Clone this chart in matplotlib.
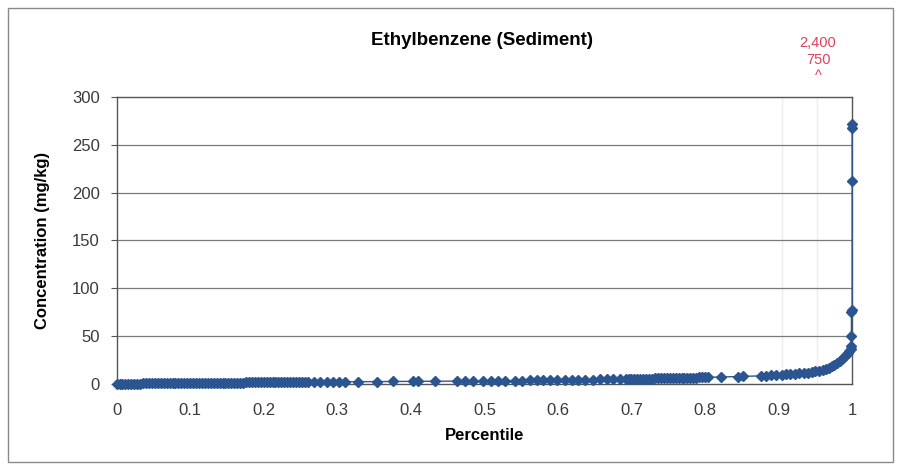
import matplotlib.pyplot as plt
from matplotlib.patches import Rectangle

# Percentil y concentracion
percentile = [
    0.000, 0.004, 0.008, 0.012, 0.016, 0.020, 0.024, 0.028, 0.032, 0.036,
    0.040, 0.044, 0.048, 0.052, 0.056, 0.060, 0.064, 0.068, 0.072, 0.076,
    0.080, 0.084, 0.088, 0.092, 0.096, 0.100, 0.104, 0.108, 0.112, 0.116,
    0.120, 0.124, 0.128, 0.132, 0.136, 0.140, 0.144, 0.148, 0.152, 0.156,
    0.160, 0.164, 0.168, 0.172, 0.176, 0.180, 0.184, 0.188, 0.192, 0.196,
    0.200, 0.204, 0.208, 0.212, 0.216, 0.220, 0.224, 0.228, 0.232, 0.236,
    0.240, 0.244, 0.248, 0.252, 0.256, 0.260,
    0.268, 0.276, 0.286, 0.294, 0.303, 0.310, 0.328, 0.354, 0.376, 0.403,
    0.410, 0.433, 0.463, 0.473, 0.484, 0.498,
    0.509, 0.518, 0.528, 0.541, 0.551, 0.562, 0.571, 0.580, 0.589, 0.599,
    0.610, 0.619, 0.627, 0.637, 0.648, 0.657, 0.667, 0.675, 0.684,
    0.692, 0.696, 0.700, 0.704, 0.708, 0.712, 0.716, 0.720, 0.724, 0.728,
    0.732, 0.736, 0.740, 0.744, 0.748, 0.752, 0.756, 0.760, 0.764, 0.768,
    0.772, 0.776, 0.780, 0.784, 0.788, 0.792, 0.796, 0.800, 0.804,
    0.822, 0.845, 0.852,
    0.876, 0.883, 0.890, 0.897, 0.904, 0.910, 0.916, 0.922, 0.928, 0.934,
    0.940, 0.945, 0.950, 0.955, 0.960, 0.964, 0.968, 0.972, 0.976, 0.980,
    0.983, 0.986, 0.989, 0.992, 0.994, 0.996, 0.998,
    0.998, 0.999, 0.999, 1.000, 1.000, 1.000, 1.000,
]
conc = [
    0.2, 0.2, 0.3, 0.3, 0.4, 0.4, 0.5, 0.5, 0.5, 0.6,
    0.6, 0.6, 0.7, 0.7, 0.7, 0.8, 0.8, 0.8, 0.9, 0.9,
    0.9, 1.0, 1.0, 1.0, 1.0, 1.1, 1.1, 1.1, 1.2, 1.2,
    1.2, 1.2, 1.3, 1.3, 1.3, 1.3, 1.4, 1.4, 1.4, 1.4,
    1.5, 1.5, 1.5, 1.5, 1.6, 1.6, 1.6, 1.6, 1.7, 1.7,
    1.7, 1.7, 1.8, 1.8, 1.8, 1.8, 1.9, 1.9, 1.9, 1.9,
    1.9, 2.0, 2.0, 2.0, 2.0, 2.0,
    2.1, 2.1, 2.2, 2.2, 2.3, 2.3, 2.4, 2.5, 2.6, 2.7,
    2.7, 2.8, 3.0, 3.0, 3.1, 3.2,
    3.3, 3.4, 3.5, 3.6, 3.6, 3.7, 3.8, 3.9, 4.0, 4.1,
    4.2, 4.3, 4.4, 4.5, 4.6, 4.7, 4.8, 4.9, 5.0,
    5.1, 5.2, 5.2, 5.3, 5.4, 5.4, 5.5, 5.6, 5.6, 5.7,
    5.8, 5.8, 5.9, 6.0, 6.0, 6.1, 6.2, 6.2, 6.3, 6.4,
    6.4, 6.5, 6.6, 6.6, 6.7, 6.8, 6.8, 6.9, 7.0,
    7.3, 7.8, 8.0,
    8.5, 8.8, 9.0, 9.3, 9.6, 10.0, 10.4, 10.8, 11.2, 11.6,
    12.0, 12.6, 13.2, 14.0, 15.0, 16.0, 17.0, 18.5, 20.0, 22.0,
    24.0, 26.0, 28.0, 30.0, 32.0, 34.0, 37.0,
    40.0, 50.0, 75.0, 77.0, 212.0, 268.0, 272.0,
]
y_ticks = [0, 50, 100, 150, 200, 250, 300]
x_ticks = [0, 0.1, 0.2, 0.3, 0.4, 0.5, 0.6, 0.7, 0.8, 0.9, 1]
x_tick_labels = ["0", "0.1", "0.2", "0.3", "0.4", "0.5", "0.6", "0.7", "0.8", "0.9", "1"]
off_scale = "2,400\n750\n^"

plt.rcParams['font.family'] = ['Liberation Sans', 'DejaVu Sans']

fig = plt.figure(figsize=(8.97, 4.66), dpi=100)
ax = fig.add_axes([0.130, 0.176, 0.820, 0.616])

# marco exterior del grafico
fig.patches.append(Rectangle((0.009, 0.009), 0.987, 0.974, transform=fig.transFigure,
                             fill=False, edgecolor='#8a8a8a', linewidth=1.0))

for yv in y_ticks[1:-1]:
    ax.axhline(yv, color='#7a7a7a', linewidth=0.9, zorder=1)
for xv in [0.905, 0.952]:
    ax.axvline(xv, color='#eeeeee', linewidth=1.0, zorder=0)

ax.plot(percentile, conc, color='#2b5590', linewidth=1.0, marker='D',
        markersize=4.8, markerfacecolor='#2b5590', markeredgecolor='#2b5590', zorder=3,
        clip_on=False)

ax.set_xlim(0, 1)
ax.set_ylim(0, 300)
ax.set_yticks(y_ticks)
ax.set_xticks(x_ticks)
ax.set_xticklabels(x_tick_labels)
ax.tick_params(axis='y', length=4, width=0.8, color='#555555', labelsize=12,
               labelcolor='#3a3a3a', pad=8)
ax.tick_params(axis='x', length=0, labelsize=12, labelcolor='#3a3a3a', pad=14)
for s in ax.spines.values():
    s.set_color('#555555')
    s.set_linewidth(1.0)

ax.set_xlabel("Percentile", fontsize=12, fontweight='bold', labelpad=7)
ax.set_ylabel("Concentration (mg/kg)", fontsize=12, fontweight='bold', labelpad=16)
fig.text(0.537, 0.914, "Ethylbenzene (Sediment)", ha='center', va='center',
         fontsize=13.5, fontweight='bold')
fig.text(0.912, 0.872, off_scale, ha='center', va='center', fontsize=10.5,
         color='#e0405a', linespacing=1.2)

fig.savefig("out.png", dpi=100)
